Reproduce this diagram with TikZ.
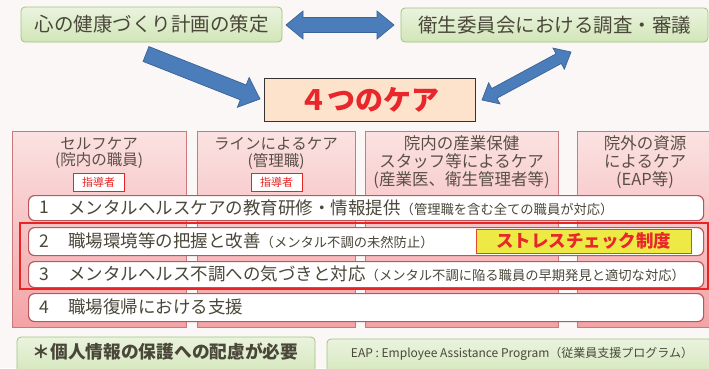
\documentclass[tikz,border=0pt]{standalone}
\usepackage{fontspec}
\setmainfont{Noto Sans CJK JP}
\usetikzlibrary{calc}

\definecolor{bgc}{HTML}{FBF7F7}
\definecolor{grtop}{HTML}{EAF3DE}
\definecolor{grbot}{HTML}{D2E6B8}
\definecolor{grline}{HTML}{9FC47E}
\definecolor{txtdark}{HTML}{4A473A}
\definecolor{hdrtxt}{HTML}{5A4F48}
\definecolor{arrfill}{HTML}{4A7DBA}
\definecolor{arrline}{HTML}{3A6496}
\definecolor{peach}{HTML}{FDE3CC}
\definecolor{careRed}{HTML}{E8262B}
\definecolor{coltop}{HTML}{FBE2E2}
\definecolor{colbot}{HTML}{F3A3A6}
\definecolor{colline}{HTML}{C9787B}
\definecolor{rowline}{HTML}{B8585D}
\definecolor{focusred}{HTML}{E82424}
\definecolor{stressY}{HTML}{EEEA45}
\definecolor{stressLine}{HTML}{E4452E}

\newcommand\blkarrow[6]{%
  \coordinate (ba-h) at ($(#2)!#5!(#1)$);
  \draw[#6] ($(#1)!#3!90:(#2)$) -- ($(ba-h)!#3!90:(#2)$) -- ($(ba-h)!#4!90:(#2)$) -- (#2)
    -- ($(ba-h)!#4!-90:(#2)$) -- ($(ba-h)!#3!-90:(#2)$) -- ($(#1)!#3!-90:(#2)$) -- cycle;
}
\newcommand\blkdarrow[6]{%
  \coordinate (da-a) at ($(#1)!#5!(#2)$);
  \coordinate (da-b) at ($(#2)!#5!(#1)$);
  \draw[#6] (#1) -- ($(da-a)!#4!90:(#2)$) -- ($(da-a)!#3!90:(#2)$) -- ($(da-b)!#3!90:(#2)$)
    -- ($(da-b)!#4!90:(#2)$) -- (#2) -- ($(da-b)!#4!-90:(#2)$) -- ($(da-b)!#3!-90:(#2)$)
    -- ($(da-a)!#3!-90:(#2)$) -- ($(da-a)!#4!-90:(#2)$) -- cycle;
}
\newcommand\subnote[1]{{\fontsize{13.3}{14}\selectfont #1}}

\tikzset{
  greenbox/.style={draw=grline, line width=0.8pt, rounded corners=4pt, top color=grtop, bottom color=grbot, inner sep=0pt},
  blockarr/.style={fill=arrfill, draw=arrline, line width=0.7pt, line join=miter},
  colbox/.style={draw=colline, line width=0.8pt, top color=coltop, bottom color=colbot, inner sep=0pt, anchor=north west},
  hdr/.style={text=hdrtxt, font=\fontsize{16.5}{18}\selectfont, inner sep=0pt},
  hdrs/.style={text=hdrtxt, font=\fontsize{15.5}{16}\selectfont, inner sep=0pt},
  leader/.style={draw=focusred, line width=1pt, fill=white, text=focusred, font=\fontsize{11}{12}\selectfont, minimum width=51pt, minimum height=18pt, inner sep=0pt},
  rowbox/.style={draw=rowline, line width=1.2pt, fill=white, rounded corners=6pt, anchor=north west, minimum width=675pt, inner sep=0pt},
  rownum/.style={text=txtdark, font=\fontsize{17.5}{18}\selectfont, inner sep=0pt},
  rowtxt/.style={text=txtdark, font=\fontsize{17.5}{18}\selectfont, inner sep=0pt, anchor=west},
}

\begin{document}
\begin{tikzpicture}[x=1pt,y=-1pt]
\clip (0,0) rectangle (709,368);
\fill[bgc] (0,0) rectangle (709,368);

% top boxes
\node[greenbox, minimum width=261pt, minimum height=35pt, text=txtdark, font=\fontsize{19.5}{20}\selectfont] (plan) at (151.5,24.5) {心の健康づくり計画の策定};
\node[greenbox, minimum width=307pt, minimum height=34pt, text=txtdark, font=\fontsize{19.5}{20}\selectfont] (comm) at (554.5,25) {衛生委員会における調査・審議};

% four cares box
\node[draw=black!80, line width=0.8pt, fill=peach, minimum width=211pt, minimum height=43pt, inner sep=0pt, text=careRed, font=\fontsize{28}{30}\selectfont\bfseries] (care) at (369.5,99.5) {４つのケア};

% block arrows
\coordinate (hA) at (286,25);
\coordinate (hB) at (394,25);
\blkdarrow{hA}{hB}{7.5pt}{14pt}{17pt}{blockarr}
\coordinate (lA) at (146,54);
\coordinate (lB) at (260,99);
\blkarrow{lA}{lB}{8pt}{16pt}{18pt}{blockarr}
\coordinate (rA) at (571,52);
\coordinate (rB) at (482,100);
\blkdarrow{rA}{rB}{5.5pt}{12pt}{14pt}{blockarr}

% columns
\node[colbox, minimum width=174pt, minimum height=196pt] (c1) at (12,131) {};
\node[colbox, minimum width=158pt, minimum height=196pt] (c2) at (197,131) {};
\node[colbox, minimum width=193pt, minimum height=196pt] (c3) at (365,131) {};
\node[colbox, minimum width=136pt, minimum height=196pt] (c4) at (577,131) {};

\node[hdrs] (c1a) at (99,144) {セルフケア};
\node[hdrs] (c1b) at (99,161) {(院内の職員)};
\node[leader] (l1) at (98.5,182) {指導者};
\node[hdrs] (c2a) at (276,144) {ラインによるケア};
\node[hdrs] (c2b) at (276,161) {(管理職)};
\node[leader] (l2) at (276.5,182) {指導者};
\node[hdr] (c3a) at (461.5,143) {院内の産業保健};
\node[hdr] (c3b) at (461.5,161.5) {スタッフ等によるケア};
\node[hdr] (c3c) at (461.5,180) {(産業医、衛生管理者等)};
\node[hdr] (c4a) at (645,143) {院外の資源};
\node[hdr] (c4b) at (645,161.5) {によるケア};
\node[hdr] (c4c) at (645,180) {(EAP等)};

% rows
\node[rowbox, minimum height=25pt] (r1) at (28,195) {};
\node[rowbox, minimum height=28pt] (r2) at (28,227) {};
\node[rowbox, minimum height=26pt] (r3) at (28,261) {};
\node[rowbox, minimum height=28pt] (r4) at (28,293) {};

\node[draw=focusred, line width=1.2pt, minimum width=688pt, minimum height=66pt, inner sep=0pt] (focus) at (364,256) {};

\node[rownum] (n1) at (44,207.5) {1};
\node[rowtxt] (t1) at (68,207.5) {メンタルヘルスケアの教育研修・情報提供\subnote{（管理職を含む全ての職員が対応）}};
\node[rownum] (n2) at (44,241) {2};
\node[rowtxt] (t2) at (68,241) {職場環境等の把握と改善\subnote{（メンタル不調の未然防止）}};
\node[rownum] (n3) at (44,274) {3};
\node[rowtxt] (t3) at (68,274) {メンタルヘルス不調への気づきと対応\subnote{（メンタル不調に陥る職員の早期発見と適切な対応）}};
\node[rownum] (n4) at (44,307) {4};
\node[rowtxt] (t4) at (68,307) {職場復帰における支援};

\node[draw=stressLine, line width=1pt, fill=stressY, minimum width=215pt, minimum height=24pt, inner sep=0pt, text=careRed, font=\fontsize{17.5}{18}\selectfont\bfseries] (stress) at (583.5,241) {ストレスチェック制度};

% bottom boxes
\node[greenbox, minimum width=298pt, minimum height=40pt] (privbox) at (166,357) {};
\node[text=txtdark, font=\fontsize{17.7}{18}\selectfont\bfseries, inner sep=0pt] (priv) at (165.5,352) {＊個人情報の保護への配慮が必要};
\node[greenbox, minimum width=385pt, minimum height=40pt] (eapbox) at (519.5,359) {};
\node[text=txtdark, font=\fontsize{12}{13}\selectfont, inner sep=0pt] (eap) at (522,354) {EAP : Employee Assistance Program（従業員支援プログラム）};
\end{tikzpicture}
\end{document}
